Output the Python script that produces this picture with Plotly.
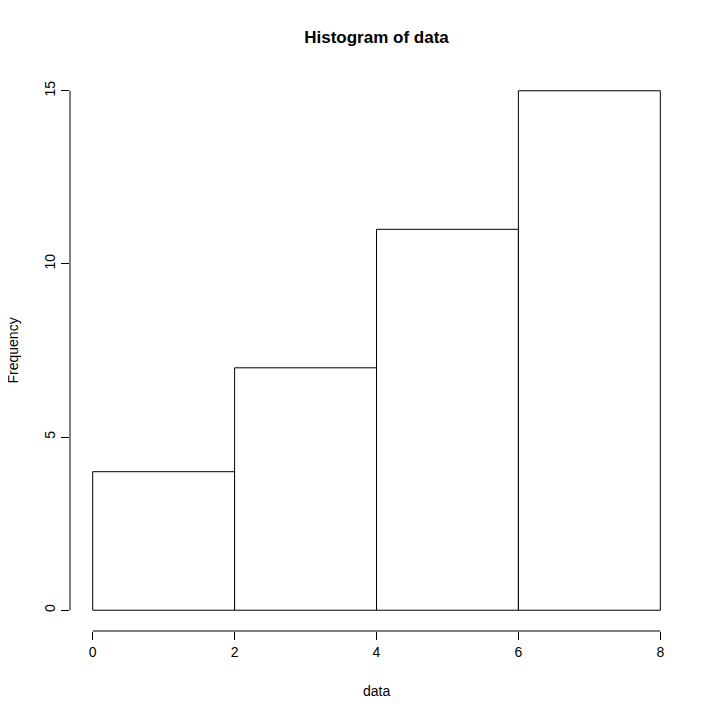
import plotly.graph_objects as go

bin_edges = [0, 2, 4, 6, 8]
counts = [4, 7, 11, 15]
x_ticks = [0, 2, 4, 6, 8]
y_ticks = [0, 5, 10, 15]

centers = [(bin_edges[i] + bin_edges[i + 1]) / 2 for i in range(len(counts))]
widths = [bin_edges[i + 1] - bin_edges[i] for i in range(len(counts))]

FONT = "Liberation Sans, Arial, sans-serif"
OFF = 8  # page body margin

fig = go.Figure()
fig.add_trace(go.Bar(
    x=centers, y=counts, width=widths,
    marker=dict(color="white", line=dict(color="black", width=1)),
    hoverinfo="skip",
))

fig.update_layout(
    width=720, height=720,
    paper_bgcolor="white", plot_bgcolor="white",
    margin=dict(l=70 - OFF, r=37 + OFF, t=70 - OFF, b=89 + OFF, autoexpand=False),
    showlegend=False,
    font=dict(family=FONT, size=14, color="black"),
    title=dict(text="<b>Histogram of data</b>", x=0.5, xref="paper",
               y=1 - (37 - OFF) / 720, yref="container", yanchor="middle", xanchor="center",
               font=dict(family=FONT, size=17, color="black")),
    xaxis=dict(range=[-0.32, 8.32], tickvals=x_ticks, ticks="outside", ticklen=8,
               tickcolor="black", showgrid=False, zeroline=False, showline=False,
               tickfont=dict(size=14), fixedrange=True),
    yaxis=dict(range=[-0.6, 15.6], tickvals=y_ticks, ticks="outside", ticklen=8,
               tickcolor="black", showgrid=False, zeroline=False, showline=False,
               tickangle=-90, tickfont=dict(size=14), fixedrange=True),
)

fig.add_shape(type="line", xref="x", yref="paper", x0=x_ticks[0], x1=x_ticks[-1],
              y0=0, y1=0, line=dict(color="black", width=1))
fig.add_shape(type="line", xref="paper", yref="y", x0=0, x1=0,
              y0=y_ticks[0], y1=y_ticks[-1], line=dict(color="black", width=1))

fig.add_annotation(text="data", xref="paper", yref="paper", x=0.5, y=-(691 - 631) / 561,
                   yanchor="middle", showarrow=False, font=dict(size=14))
fig.add_annotation(text="Frequency", xref="paper", yref="paper", x=-(70 - 12) / 613, y=0.5,
                   xanchor="center", yanchor="middle", textangle=-90, showarrow=False,
                   font=dict(size=14))

fig.write_html("out.html")
